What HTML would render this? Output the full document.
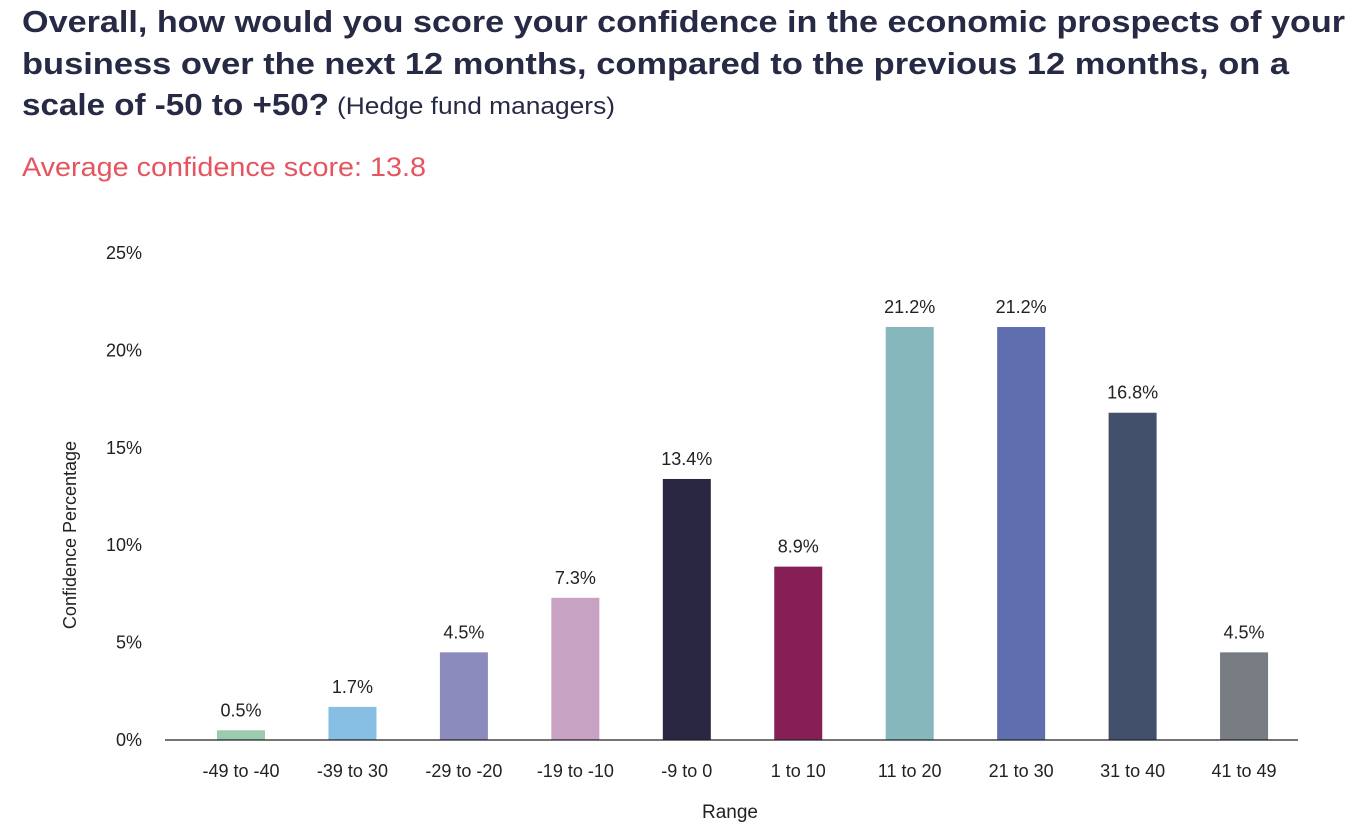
<!DOCTYPE html>
<html><head><meta charset="utf-8"><style>
html,body{margin:0;padding:0;background:#fff;}
svg{display:block;font-family:"Liberation Sans",sans-serif;}
</style></head><body>
<svg id="chart" width="1367" height="831" viewBox="0 0 1367 831">
<g fill="#272a45" font-weight="bold" font-size="31">
<text x="22" y="32" textLength="1323" lengthAdjust="spacingAndGlyphs">Overall, how would you score your confidence in the economic prospects of your</text>
<text x="22" y="74" textLength="1267" lengthAdjust="spacingAndGlyphs">business over the next 12 months, compared to the previous 12 months, on a</text>
<text x="22" y="115" textLength="307" lengthAdjust="spacingAndGlyphs">scale of -50 to +50?</text>
<text x="337" y="114" font-weight="normal" font-size="24" textLength="278" lengthAdjust="spacingAndGlyphs">(Hedge fund managers)</text>
</g>
<text x="22" y="176" fill="#e5555f" font-size="27" textLength="404" lengthAdjust="spacingAndGlyphs">Average confidence score: 13.8</text>
<g id="plot"></g>
</svg>
<script>
const categories=["-49 to -40","-39 to 30","-29 to -20","-19 to -10","-9 to 0","1 to 10","11 to 20","21 to 30","31 to 40","41 to 49"];
const values=[0.5,1.7,4.5,7.3,13.4,8.9,21.2,21.2,16.8,4.5];
const yTicks=[0,5,10,15,20,25];
const colors=["#9ccbb0","#86bfe3","#8b8bbd","#c8a2c2","#292641","#861f55","#85b7bd","#5f6eae","#42506b","#777b82"];
const ns="http://www.w3.org/2000/svg";
const g=document.getElementById("plot");
const y0=740,yTop=253,yMax=25;
const y=v=>y0-(y0-yTop)*v/yMax;
const x=i=>241+i*111.45;
function mk(tag,attrs,txt){const e=document.createElementNS(ns,tag);for(const k in attrs)e.setAttribute(k,attrs[k]);if(txt!==undefined)e.textContent=txt;g.appendChild(e);return e;}
yTicks.forEach(t=>{
  const e=mk("text",{x:142,y:y(t)+6,"text-anchor":"end","font-size":"18",fill:"#222"},t+"%");
  
  
});
categories.forEach((c,i)=>{
  const v=values[i];
  const r=mk("rect",{x:x(i)-24,y:y(v),width:48,height:y0-y(v),fill:colors[i]});
  
  
  const l=mk("text",{x:x(i),y:y(v)-14,"text-anchor":"middle","font-size":"18",fill:"#222"},v.toFixed(1)+"%");
  
  
  const t=mk("text",{x:x(i),y:777,"text-anchor":"middle","font-size":"18",fill:"#222"},c);
  
  
});
const ax=mk("line",{x1:165,x2:1298,y1:y0,y2:y0,stroke:"#222","stroke-width":1.3});


const xt=mk("text",{x:730,y:818,"text-anchor":"middle","font-size":"19",fill:"#222"},"Range");


const yt=mk("text",{x:0,y:0,"text-anchor":"middle","font-size":"18",fill:"#222",transform:"translate(76,535) rotate(-90)"},"Confidence Percentage");


</script>
</body></html>
